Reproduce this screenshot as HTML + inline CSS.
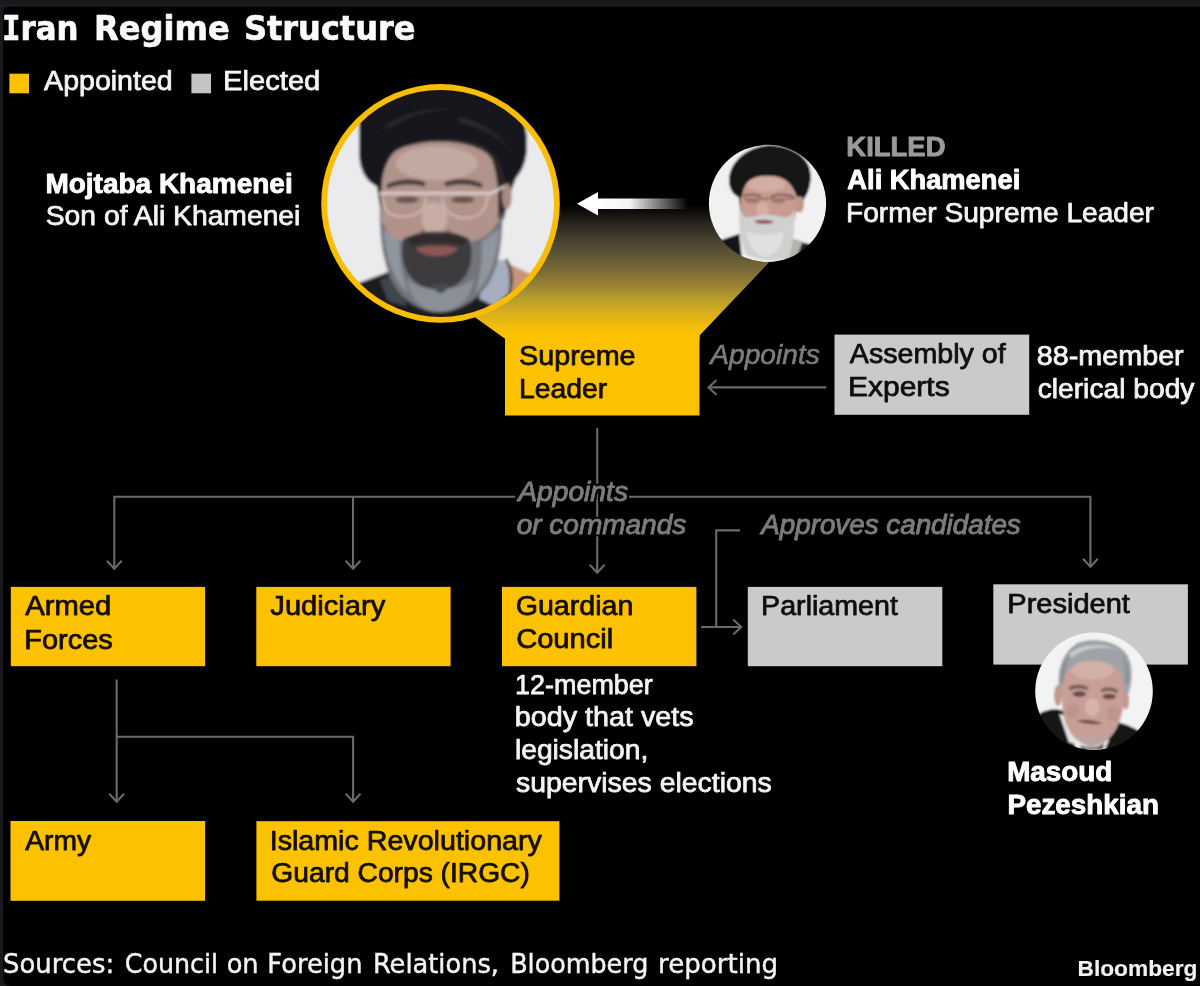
<!DOCTYPE html>
<html lang="en">
<head>
<meta charset="utf-8">
<title>Iran Regime Structure</title>
<style>
  html, body { margin: 0; padding: 0; background: #18191c; }
  body { width: 1200px; height: 986px; overflow: hidden; position: relative; }
  svg { display: block; position: absolute; left: 0; top: 0; }
  text { white-space: pre; }
  .lab { font-family: "Liberation Sans", "DejaVu Sans", sans-serif; }
  .ttl { font-family: "DejaVu Sans", "Liberation Sans", sans-serif; font-weight: bold; }
  .src { font-family: "DejaVu Sans", "Liberation Sans", sans-serif; }
  .b { font-weight: bold; }
  .i { font-style: italic; }
</style>
</head>
<body>
<svg width="1200" height="986" viewBox="0 0 1200 986">
  <defs>
    <linearGradient id="funnel" x1="0" y1="205" x2="0" y2="336" gradientUnits="userSpaceOnUse">
      <stop offset="0" stop-color="#000000"/>
      <stop offset="0.13" stop-color="#25211c"/>
      <stop offset="0.26" stop-color="#454030"/>
      <stop offset="0.38" stop-color="#5f5636"/>
      <stop offset="0.51" stop-color="#7d6c36"/>
      <stop offset="0.60" stop-color="#957f34"/>
      <stop offset="0.70" stop-color="#b39a2e"/>
      <stop offset="0.83" stop-color="#dab01c"/>
      <stop offset="0.95" stop-color="#f6c002"/>
      <stop offset="1" stop-color="#fcc200"/>
    </linearGradient>
    <linearGradient id="warrow" x1="598" y1="0" x2="688" y2="0" gradientUnits="userSpaceOnUse">
      <stop offset="0" stop-color="#fff" stop-opacity="1"/>
      <stop offset="0.35" stop-color="#fff" stop-opacity="0.95"/>
      <stop offset="1" stop-color="#fff" stop-opacity="0"/>
    </linearGradient>
    <clipPath id="clipBig"><circle cx="440.5" cy="203.4" r="113.5"/></clipPath>
    <clipPath id="clipAli"><circle cx="767.5" cy="203.4" r="58.6"/></clipPath>
    <clipPath id="clipPres"><circle cx="1094" cy="691.3" r="58.8"/></clipPath>
    <filter id="pb" x="-5%" y="-5%" width="110%" height="110%"><feGaussianBlur stdDeviation="6"/></filter>
    <filter id="ps" x="-5%" y="-5%" width="110%" height="110%"><feGaussianBlur stdDeviation="6.5"/></filter>
    <filter id="tb" x="0" y="0" width="1200" height="986" filterUnits="userSpaceOnUse"><feGaussianBlur stdDeviation="0.45"/></filter>
    <filter id="halo" x="-5%" y="-30%" width="110%" height="160%">
      <feMorphology in="SourceAlpha" operator="dilate" radius="1.6" result="d"/>
      <feGaussianBlur in="d" stdDeviation="0.6" result="db"/>
      <feFlood flood-color="#000" result="k"/>
      <feComposite in="k" in2="db" operator="in" result="h"/>
      <feMerge><feMergeNode in="h"/><feMergeNode in="SourceGraphic"/></feMerge>
    </filter>

  </defs>
  <!-- frame -->
  <rect x="0" y="0" width="1200" height="986" fill="#18191c"/>
  <rect x="0" y="4.6" width="1200" height="2" fill="#1f2024"/>
  <path d="M10 986 Q3 985 3 978 V13.5 Q3 6.6 10 6.6 H1200 V986 Z" fill="#000"/>

  <!-- legend swatches -->
  <rect x="9.4" y="73.7" width="19.6" height="19.6" fill="#fcc200"/>
  <rect x="191.4" y="73.7" width="19.6" height="19.6" fill="#c4c4c4"/>

  <!-- funnel -->
  <polygon points="440,200 768,200 768.5,263 699.5,335.5 699.5,340 505,340 505,338.8 462,308" fill="url(#funnel)"/>

  <!-- boxes -->
  <g id="boxes">
    <rect x="505" y="334" width="194.5" height="81.5" fill="#fcc200"/>
    <rect x="834.5" y="334.6" width="194.7" height="80.2" fill="#cacaca"/>
    <rect x="10.8" y="586.9" width="194.3" height="79.3" fill="#fcc200"/>
    <rect x="256.3" y="586.9" width="194.3" height="79.3" fill="#fcc200"/>
    <rect x="502" y="586.9" width="194.4" height="79.3" fill="#fcc200"/>
    <rect x="747.8" y="586.9" width="194.5" height="79.3" fill="#cacaca"/>
    <rect x="993.3" y="584.3" width="194.6" height="80.3" fill="#cacaca"/>
    <rect x="10.5" y="821" width="194.6" height="79.8" fill="#fcc200"/>
    <rect x="256.4" y="821.2" width="303" height="79.5" fill="#fcc200"/>
  </g>

  <!-- connector lines -->
  <g id="lines" fill="none" stroke="#6a6a6a" stroke-width="2.1">
    <path d="M597.2 428 V572"/>
    <path d="M589.8 564.8 L597.2 572.8 L604.6 564.8"/>
    <path d="M114.3 568 V496.7 H515"/>
    <path d="M628.8 496.7 H1090.4 V566"/>
    <path d="M106.9 560.7 L114.3 568.7 L121.7 560.7"/>
    <path d="M1083.0 558.8 L1090.4 566.8 L1097.8 558.8"/>
    <path d="M353 496.7 V568"/>
    <path d="M345.6 560.7 L353 568.7 L360.4 560.7"/>
    <path d="M740 530.4 H716.2 V627"/>
    <path d="M701 627 H741"/>
    <path d="M733.2 619.6 L741.2 627 L733.2 634.4"/>
    <path d="M826.3 387.4 H709"/>
    <path d="M716.5 380.0 L708.5 387.4 L716.5 394.8"/>
    <path d="M116.7 679.5 V801"/>
    <path d="M109.3 793.8 L116.7 801.8 L124.1 793.8"/>
    <path d="M116.7 736.7 H353.1 V801"/>
    <path d="M345.7 793.8 L353.1 801.8 L360.5 793.8"/>
  </g>

  <!-- white arrow -->
  <g id="warrowg">
    <rect x="596" y="198.5" width="94" height="10.5" fill="url(#warrow)"/>
    <polygon points="577,203.8 598,192 598,215.6" fill="#fff"/>
  </g>

  <g id="big">
    <circle cx="440.5" cy="203.4" r="119.3" fill="#f8bd05"/>
    <g clip-path="url(#clipBig)">
      <g transform="translate(320,80) scale(0.24848)" filter="url(#pb)">
        <rect x="-20" y="-20" width="1030" height="1030" fill="#ebebed"/>
        <!-- robe -->
        <path d="M120,830 L310,760 L480,820 L700,730 L860,790 L900,1010 L80,1010 Z" fill="#1d1b1b"/>
        <path d="M752,735 L850,782 L800,870 L772,860 Z" fill="#c6957a"/>
        <path d="M240,805 L305,775 L350,910 L275,890 Z" fill="#3e4550"/>
        <path d="M680,715 L752,728 L768,850 L700,910 L640,880 Z" fill="#a6aec0"/>
        <path d="M748,720 C775,760 775,820 762,850" fill="none" stroke="#161616" stroke-width="9"/>
        <!-- hair underlay -->
        <path d="M228,428 C172,400 156,340 158,280 L158,120 L220,-10 L800,-10 L826,190 C842,270 832,345 790,392 L760,470 L740,560 L250,560 Z" fill="#2b2626"/>
        <ellipse cx="752" cy="468" rx="20" ry="52" fill="#a98a82"/>
        <!-- face -->
        <path d="M262,330 C300,225 640,220 692,320 C725,410 725,560 700,680 C640,800 330,800 275,680 C240,560 240,420 262,330 Z" fill="#b0948c"/>
        <ellipse cx="470" cy="335" rx="165" ry="68" fill="#c2a9a2"/>
        <ellipse cx="325" cy="575" rx="62" ry="50" fill="#b3918b"/>
        <ellipse cx="620" cy="575" rx="62" ry="50" fill="#b3918b"/>
        <ellipse cx="460" cy="555" rx="52" ry="64" fill="#c8ada6"/>
        <path d="M405,608 C440,624 490,624 525,606" fill="none" stroke="#86675f" stroke-width="12"/>
        <!-- brows / eyes -->
        <path d="M268,420 C320,394 380,394 425,412 L420,430 C370,416 320,418 272,438 Z" fill="#4b3f3c"/>
        <path d="M500,412 C550,392 610,394 655,418 L650,436 C606,418 552,416 506,430 Z" fill="#4b3f3c"/>
        <ellipse cx="350" cy="482" rx="48" ry="14" fill="#6a5550"/>
        <ellipse cx="575" cy="482" rx="48" ry="14" fill="#6a5550"/>
        <!-- glasses -->
        <path d="M238,456 L690,456 L742,428" fill="none" stroke="#e6d4d1" stroke-width="11" opacity="0.9"/>
        <path d="M250,460 C252,520 272,548 330,550 C398,550 422,520 428,472" fill="none" stroke="#e2cdca" stroke-width="7" opacity="0.75"/>
        <path d="M492,472 C496,525 522,554 590,556 C648,552 670,520 676,462" fill="none" stroke="#e2cdca" stroke-width="7" opacity="0.75"/>
        <!-- beard -->
        <path d="M240,520 C250,600 290,650 350,650 C380,630 420,610 470,615 C520,610 560,630 590,650 C660,650 715,600 735,520 C735,660 720,760 670,830 C620,900 540,935 480,935 C410,935 330,890 290,810 C255,740 240,640 240,520 Z" fill="#72767c"/>
        <path d="M255,600 C265,720 295,800 355,860 C325,770 318,700 320,650 Z" fill="#9096a0"/>
        <path d="M722,600 C712,720 685,800 625,860 C650,770 655,700 652,650 Z" fill="#9096a0"/>
        <path d="M350,800 C420,860 540,860 620,800 C600,900 540,930 480,932 C420,930 370,900 350,800 Z" fill="#8a9098"/>
        <path d="M335,640 C400,600 540,600 600,640 C625,720 600,800 540,830 C500,845 450,845 410,830 C345,800 318,720 335,640 Z" fill="#3c3b3e"/>
        <path d="M450,820 C470,870 500,870 520,820 Z" fill="#4a4a4e"/>
        <path d="M352,640 C400,612 440,620 470,626 C500,620 545,612 590,640 L575,668 C520,650 420,650 370,668 Z" fill="#332c2b"/>
        <path d="M385,676 C440,664 510,664 555,676 C535,720 410,720 385,676 Z" fill="#8d5552"/>
        <!-- turban -->
        <path d="M228,428 C172,400 156,340 158,280 L158,120 L220,-10 L800,-10 L826,190 C842,270 832,345 790,392 L748,420 C735,335 700,285 640,258 C560,228 400,228 322,272 C272,302 252,372 246,428 Z" fill="#19191b"/>
        <path d="M250,200 C330,125 480,100 620,122 C560,108 400,114 300,182 Z" fill="#2a2a2e"/>
        <path d="M560,150 C650,170 730,220 780,300 C740,240 660,190 560,170 Z" fill="#2a2a2e"/>
      </g>
    </g>
  </g>

  <g id="ali">
    <g clip-path="url(#clipAli)">
      <g transform="translate(705,140) scale(0.12677)" filter="url(#ps)">
        <rect x="-20" y="-20" width="1030" height="1030" fill="#f1f1f1"/>
        <!-- robe -->
        <path d="M120,790 L270,740 L300,1000 L60,1000 Z" fill="#141414"/>
        <path d="M690,790 L870,830 L900,1000 L640,1000 Z" fill="#1a1a1a"/>
        <path d="M640,760 L770,800 L720,940 L620,950 Z" fill="#b4b4ae"/>
        <!-- hair underlay -->
        <path d="M265,452 C180,410 165,290 230,190 C300,85 420,42 520,42 C640,45 770,100 815,200 C850,280 830,390 790,450 L740,560 L280,560 Z" fill="#3a3432"/>
        <ellipse cx="748" cy="505" rx="32" ry="68" fill="#c0968a"/>
        <!-- face -->
        <path d="M295,350 C340,255 660,260 712,355 C738,450 730,560 700,650 C640,740 350,740 300,650 C277,560 272,450 295,350 Z" fill="#c79d91"/>
        <ellipse cx="480" cy="350" rx="155" ry="58" fill="#d3ada1"/>
        <ellipse cx="455" cy="545" rx="50" ry="55" fill="#d6aea4"/>
        <path d="M300,440 C350,425 410,428 440,445 M520,445 C570,425 640,428 700,445" stroke="#7a5a54" stroke-width="16" fill="none"/>
        <path d="M300,462 L715,462" stroke="#8a6a62" stroke-width="14" fill="none"/>
        <ellipse cx="375" cy="480" rx="55" ry="22" fill="#a9766e"/>
        <ellipse cx="580" cy="480" rx="55" ry="22" fill="#a9766e"/>
        <!-- beard -->
        <path d="M272,540 C290,610 330,620 400,600 C440,585 520,585 570,600 C640,620 690,610 703,540 C715,660 700,800 660,930 C560,960 420,960 320,900 C272,800 264,660 272,540 Z" fill="#d0d0d0"/>
        <path d="M330,720 C420,760 540,760 620,720 C610,820 580,900 480,920 C380,900 340,820 330,720 Z" fill="#e0e0e0"/>
        <path d="M385,640 C430,625 500,625 545,645 C510,670 420,670 385,640 Z" fill="#965c59"/>
        <!-- turban -->
        <path d="M265,452 C180,410 165,290 230,190 C300,85 420,42 520,42 C640,45 770,100 815,200 C850,280 830,390 790,450 L722,444 C700,375 660,320 600,298 C540,270 420,265 350,320 C310,355 295,410 290,452 Z" fill="#121214"/>
      </g>
    </g>
  </g>

  <g id="pres">
    <g clip-path="url(#clipPres)">
      <g transform="translate(1030,628) scale(0.12982)" filter="url(#ps)">
        <rect x="-20" y="-20" width="1030" height="1030" fill="#f3f3f4"/>
        <!-- suit -->
        <path d="M70,660 C130,625 200,615 260,640 L340,900 L420,1000 L40,1000 Z" fill="#171717"/>
        <path d="M640,720 C720,730 790,760 850,800 L880,1000 L560,1000 Z" fill="#171717"/>
        <path d="M225,660 L300,690 L370,900 L300,880 Z" fill="#e6e6e8"/>
        <path d="M540,850 L610,860 L580,930 L530,920 Z" fill="#e2e2e4"/>
        <!-- hair (filled) -->
        <path d="M225,490 C200,330 250,170 380,110 C500,70 680,100 750,210 C800,300 790,430 750,530 L700,560 L260,560 Z" fill="#9fa3a8"/>
        <path d="M300,200 C380,125 560,105 680,172 C600,140 420,140 320,232 Z" fill="#c6c9cc"/>
        <path d="M235,420 C230,330 260,250 310,200 C280,270 268,350 262,440 Z" fill="#8a8e93"/>
        <path d="M760,420 C770,340 750,260 710,210 C735,280 740,350 738,440 Z" fill="#8a8e93"/>
        <!-- face -->
        <path d="M265,370 C300,245 630,225 702,355 C735,450 735,600 690,720 C640,850 560,910 470,910 C380,900 310,830 270,720 C235,600 240,460 265,370 Z" fill="#c79f96"/>
        <ellipse cx="480" cy="325" rx="165" ry="72" fill="#d2b0a8"/>
        <ellipse cx="215" cy="520" rx="30" ry="82" fill="#c2988f"/>
        <ellipse cx="738" cy="560" rx="26" ry="68" fill="#c2988f"/>
        <ellipse cx="480" cy="610" rx="58" ry="68" fill="#d6b2aa"/>
        <ellipse cx="330" cy="640" rx="55" ry="60" fill="#c0948c"/>
        <ellipse cx="640" cy="660" rx="50" ry="60" fill="#c0948c"/>
        <!-- brows/eyes -->
        <path d="M300,452 C350,428 410,432 450,456 L445,480 C400,464 350,464 305,482 Z" fill="#7a5f5a"/>
        <path d="M545,472 C590,448 640,452 680,482 L672,502 C630,482 590,482 550,494 Z" fill="#7a5f5a"/>
        <ellipse cx="380" cy="508" rx="52" ry="22" fill="#6a4d48"/>
        <ellipse cx="610" cy="528" rx="52" ry="22" fill="#6a4d48"/>
        <!-- mouth/stubble -->
        <path d="M355,715 C420,697 500,707 560,737 C500,747 420,742 355,715 Z" fill="#7e4f4c"/>
        <path d="M340,800 C420,850 520,850 600,800 C580,880 520,915 470,915 C410,910 360,870 340,800 Z" fill="#bba5a1"/>
        <path d="M380,900 C440,930 520,930 570,890 L560,935 L400,935 Z" fill="#4a4040"/>
      </g>
    </g>
  </g>

  <g id="labels" filter="url(#tb)">
    <text id="t1" class="ttl" y="39.6" font-size="33.5" fill="#fafafa" stroke="#fafafa" stroke-width="0.7" stroke-linejoin="round"><tspan id="t1a" x="2.02" textLength="76.49" lengthAdjust="spacingAndGlyphs"><tspan font-family="DejaVu Sans Mono">I</tspan>ran</tspan> <tspan id="t1b" x="93.99" textLength="135.66" lengthAdjust="spacingAndGlyphs">Regime</tspan> <tspan id="t1c" x="244.01" textLength="171.39" lengthAdjust="spacingAndGlyphs">Structure</tspan></text>
    <text id="l1" class="lab" x="44.14" y="89.6" font-size="27" fill="#f4f4f4" textLength="128.53" lengthAdjust="spacingAndGlyphs" stroke="#f4f4f4" stroke-width="0.75" stroke-linejoin="round">Appointed</text>
    <text id="l2" class="lab" x="223.14" y="89.6" font-size="27" fill="#f4f4f4" textLength="97.16" lengthAdjust="spacingAndGlyphs" stroke="#f4f4f4" stroke-width="0.75" stroke-linejoin="round">Elected</text>
    <text id="n1" class="lab b" x="45.41" y="192.6" font-size="27" fill="#ffffff" textLength="247.26" lengthAdjust="spacingAndGlyphs" stroke="#ffffff" stroke-width="0.9" stroke-linejoin="round">Mojtaba Khamenei</text>
    <text id="n2" class="lab" x="45.77" y="225.0" font-size="27" fill="#f4f4f4" textLength="254.62" lengthAdjust="spacingAndGlyphs" stroke="#f4f4f4" stroke-width="0.75" stroke-linejoin="round">Son of Ali Khamenei</text>
    <text id="k1" class="lab b" x="846.36" y="155.9" font-size="27" fill="#9a9a9a" textLength="99.11" lengthAdjust="spacingAndGlyphs" stroke="#9a9a9a" stroke-width="0.9" stroke-linejoin="round">KILLED</text>
    <text id="k2" class="lab b" x="847.37" y="188.9" font-size="27" fill="#ffffff" textLength="172.87" lengthAdjust="spacingAndGlyphs" stroke="#ffffff" stroke-width="0.9" stroke-linejoin="round">Ali Khamenei</text>
    <text id="k3" class="lab" x="846.04" y="221.5" font-size="27" fill="#f4f4f4" textLength="307.96" lengthAdjust="spacingAndGlyphs" stroke="#f4f4f4" stroke-width="0.75" stroke-linejoin="round">Former Supreme Leader</text>
    <text id="s" class="lab" y="365.1" font-size="27" fill="#141000" stroke="#141000" stroke-width="0.75" stroke-linejoin="round"><tspan id="s1" x="519.04" y="365.1" textLength="116.55" lengthAdjust="spacingAndGlyphs">Supreme</tspan> <tspan id="s2" x="518.98" y="398.0" textLength="88.28" lengthAdjust="spacingAndGlyphs">Leader</tspan></text>
    <text id="a1" class="lab i" x="710.28" y="363.8" font-size="27" fill="#7b7b7b" textLength="109.59" lengthAdjust="spacingAndGlyphs" stroke="#7b7b7b" stroke-width="0.6" stroke-linejoin="round">Appoints</text>
    <text id="e" class="lab" y="363.0" font-size="27" fill="#111111" stroke="#111111" stroke-width="0.75" stroke-linejoin="round"><tspan id="e1" x="849.89" y="363.0" textLength="155.81" lengthAdjust="spacingAndGlyphs">Assembly of</tspan> <tspan id="e2" x="848.00" y="395.7" textLength="101.69" lengthAdjust="spacingAndGlyphs">Experts</tspan></text>
    <text id="m" class="lab" y="365.0" font-size="27" fill="#f4f4f4" stroke="#f4f4f4" stroke-width="0.75" stroke-linejoin="round"><tspan id="m1" x="1036.81" y="365.0" textLength="146.88" lengthAdjust="spacingAndGlyphs">88-member</tspan> <tspan id="m2" x="1037.67" y="398.0" textLength="156.81" lengthAdjust="spacingAndGlyphs">clerical body</tspan></text>
    <text id="c" class="lab i" y="501.4" font-size="27" fill="#7b7b7b" stroke="#7b7b7b" stroke-width="0.6" stroke-linejoin="round" filter="url(#halo)"><tspan id="c1" x="518.20" y="501.4" textLength="109.80" lengthAdjust="spacingAndGlyphs">Appoints</tspan> <tspan id="c2" x="516.66" y="534.4" textLength="169.60" lengthAdjust="spacingAndGlyphs">or commands</tspan></text>
    <text id="c3" class="lab i" x="761.21" y="534.1" font-size="27" fill="#7b7b7b" textLength="259.54" lengthAdjust="spacingAndGlyphs" stroke="#7b7b7b" stroke-width="0.6" stroke-linejoin="round" filter="url(#halo)">Approves candidates</text>
    <text id="b12" class="lab" y="615.2" font-size="27" fill="#141000" stroke="#141000" stroke-width="0.75" stroke-linejoin="round"><tspan id="b1" x="25.31" y="615.2" textLength="85.91" lengthAdjust="spacingAndGlyphs">Armed</tspan> <tspan id="b2" x="24.38" y="648.5" textLength="88.38" lengthAdjust="spacingAndGlyphs">Forces</tspan></text>
    <text id="b3" class="lab" x="270.34" y="615.2" font-size="27" fill="#141000" textLength="114.98" lengthAdjust="spacingAndGlyphs" stroke="#141000" stroke-width="0.75" stroke-linejoin="round">Judiciary</text>
    <text id="b45" class="lab" y="615.1" font-size="27" fill="#141000" stroke="#141000" stroke-width="0.75" stroke-linejoin="round"><tspan id="b4" x="515.74" y="615.1" textLength="117.62" lengthAdjust="spacingAndGlyphs">Guardian</tspan> <tspan id="b5" x="516.16" y="648.4" textLength="97.09" lengthAdjust="spacingAndGlyphs">Council</tspan></text>
    <text id="b6" class="lab" x="761.11" y="615.2" font-size="27" fill="#111111" textLength="136.76" lengthAdjust="spacingAndGlyphs" stroke="#111111" stroke-width="0.75" stroke-linejoin="round">Parliament</text>
    <text id="b7" class="lab" x="1007.37" y="613.4" font-size="27" fill="#111111" textLength="122.55" lengthAdjust="spacingAndGlyphs" stroke="#111111" stroke-width="0.75" stroke-linejoin="round">President</text>
    <text id="g" class="lab" y="693.6" font-size="27" fill="#f4f4f4" stroke="#f4f4f4" stroke-width="0.75" stroke-linejoin="round"><tspan id="g1" x="515.01" y="693.6" textLength="137.82" lengthAdjust="spacingAndGlyphs">12-member</tspan> <tspan id="g2" x="514.88" y="726.3" textLength="178.72" lengthAdjust="spacingAndGlyphs">body that vets</tspan> <tspan id="g3" x="514.94" y="758.8" textLength="133.28" lengthAdjust="spacingAndGlyphs">legislation,</tspan> <tspan id="g4" x="515.97" y="792.0" textLength="255.79" lengthAdjust="spacingAndGlyphs">supervises elections</tspan></text>
    <text id="r1" class="lab" x="25.26" y="849.7" font-size="27" fill="#141000" textLength="65.96" lengthAdjust="spacingAndGlyphs" stroke="#141000" stroke-width="0.75" stroke-linejoin="round">Army</text>
    <text id="r23" class="lab" y="849.7" font-size="27" fill="#141000" stroke="#141000" stroke-width="0.75" stroke-linejoin="round"><tspan id="r2" x="269.71" y="849.7" textLength="272.13" lengthAdjust="spacingAndGlyphs">Islamic Revolutionary</tspan> <tspan id="r3" x="271.36" y="882.0" textLength="258.47" lengthAdjust="spacingAndGlyphs">Guard Corps (IRGC)</tspan></text>
    <text id="p" class="lab b" y="780.6" font-size="27" fill="#ffffff" stroke="#ffffff" stroke-width="0.9" stroke-linejoin="round"><tspan id="p1" x="1007.16" y="780.6" textLength="105.24" lengthAdjust="spacingAndGlyphs">Masoud</tspan> <tspan id="p2" x="1007.43" y="813.5" textLength="151.52" lengthAdjust="spacingAndGlyphs">Pezeshkian</tspan></text>
    <text id="f1" class="src" y="972.6" font-size="27" fill="#f4f4f4" stroke="#f4f4f4" stroke-width="0.45" stroke-linejoin="round"><tspan id="f1a" x="3.09" textLength="111.04" lengthAdjust="spacingAndGlyphs">Sources:</tspan> <tspan id="f1b" x="124.86" textLength="93.24" lengthAdjust="spacingAndGlyphs">Council</tspan> <tspan id="f1c" x="226.64" textLength="32.00" lengthAdjust="spacingAndGlyphs">on</tspan> <tspan id="f1d" x="267.32" textLength="95.15" lengthAdjust="spacingAndGlyphs">Foreign</tspan> <tspan id="f1e" x="372.94" textLength="126.08" lengthAdjust="spacingAndGlyphs">Relations,</tspan> <tspan id="f1f" x="510.15" textLength="138.25" lengthAdjust="spacingAndGlyphs">Bloomberg</tspan> <tspan id="f1g" x="658.10" textLength="119.98" lengthAdjust="spacingAndGlyphs">reporting</tspan></text>
    <text id="w1" class="lab b logo" x="1077.54" y="975.5" font-size="21.5" fill="#f2f2f2" textLength="119.91" lengthAdjust="spacingAndGlyphs" stroke="#f2f2f2" stroke-width="0.15" stroke-linejoin="round">Bloomberg</text>
  </g>
</svg>
</body>
</html>
